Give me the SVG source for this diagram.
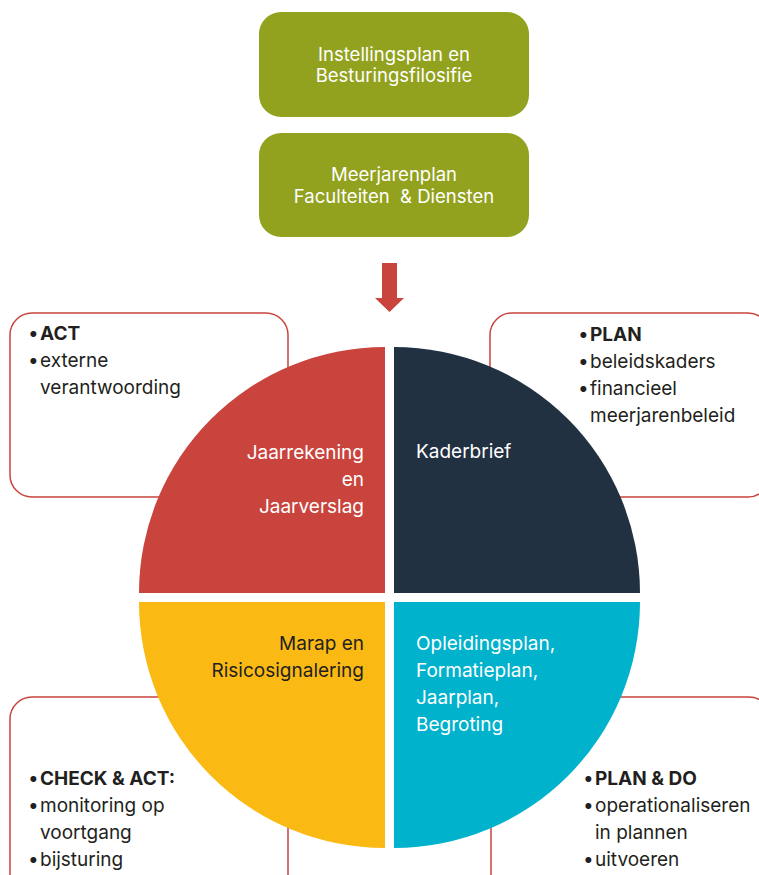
<svg xmlns="http://www.w3.org/2000/svg" width="759" height="875" viewBox="0 0 759 875">
<style>
.gbox{fill:#92a21e}
.rbox{fill:#fff;stroke:#c9443d;stroke-width:1.5}
.t{font-family:Inter,"Liberation Sans",Arial,sans-serif;font-size:19px}
.s{font-size:18.5px}
.w{fill:#fff}
.d{fill:#231f20}
.b{font-weight:bold}
.c{text-anchor:middle}
.r{text-anchor:end}
</style>
<rect width="759" height="875" fill="#fff"/>
<g id="box-instellingsplan">
<rect class="gbox" x="259" y="12" width="270" height="105" rx="22"/>
<text class="t s w c" x="394" y="61">Instellingsplan en</text>
<text class="t s w c" x="394" y="82">Besturingsfilosifie</text>
</g>
<g id="box-meerjarenplan">
<rect class="gbox" x="259" y="133" width="270" height="104" rx="22"/>
<text class="t s w c" x="394" y="181">Meerjarenplan</text>
<text class="t s w c" x="394" y="203" xml:space="preserve">Faculteiten  &amp; Diensten</text>
</g>
<g id="connectors">
<polygon points="382,263 397,263 397,298 404,298 389.5,312 375,298 382,298" fill="#c9443d"/>
</g>
<g id="box-act">
<rect class="rbox" x="10" y="313" width="278" height="184" rx="22"/>
<text class="t d" x="28" y="340">•<tspan class="b" x="40">ACT</tspan></text>
<text class="t d" x="28" y="367">•<tspan x="40">externe</tspan></text>
<text class="t d" x="40" y="394">verantwoording</text>
</g>
<g id="box-plan">
<rect class="rbox" x="490" y="313" width="280" height="184" rx="22"/>
<text class="t d" x="578" y="341">•<tspan class="b" x="590">PLAN</tspan></text>
<text class="t d" x="578" y="368">•<tspan x="590">beleidskaders</tspan></text>
<text class="t d" x="578" y="395">•<tspan x="590">financieel</tspan></text>
<text class="t d" x="590" y="422">meerjarenbeleid</text>
</g>
<g id="box-check">
<rect class="rbox" x="10" y="697" width="278" height="200" rx="22"/>
<text class="t d" x="28" y="785">•<tspan class="b" x="40">CHECK &amp; ACT:</tspan></text>
<text class="t d" x="28" y="812">•<tspan x="40">monitoring op</tspan></text>
<text class="t d" x="40" y="839">voortgang</text>
<text class="t d" x="28" y="866">•<tspan x="40">bijsturing</tspan></text>
</g>
<g id="box-plando">
<rect class="rbox" x="491" y="697" width="280" height="200" rx="22"/>
<text class="t d" x="583" y="785">•<tspan class="b" x="595">PLAN &amp; DO</tspan></text>
<text class="t d" x="583" y="812">•<tspan x="595">operationaliseren</tspan></text>
<text class="t d" x="595" y="839">in plannen</text>
<text class="t d" x="583" y="866">•<tspan x="595">uitvoeren</tspan></text>
</g>
<g id="q-jaarrekening">
<path d="M385,593 L139,593 A246,246 0 0 1 385,347 Z" fill="#c9443d"/>
<text class="t w r" x="364" y="459">Jaarrekening</text>
<text class="t w r" x="364" y="486">en</text>
<text class="t w r" x="364" y="513">Jaarverslag</text>
</g>
<g id="q-kaderbrief">
<path d="M394,593 L394,347 A246,246 0 0 1 640,593 Z" fill="#213142"/>
<text class="t w" x="416" y="458">Kaderbrief</text>
</g>
<g id="q-marap">
<path d="M385,602 L385,848 A246,246 0 0 1 139,602 Z" fill="#fbb914"/>
<text class="t d r" x="364" y="650">Marap en</text>
<text class="t d r" x="364" y="677">Risicosignalering</text>
</g>
<g id="q-opleidingsplan">
<path d="M394,602 L640,602 A246,246 0 0 1 394,848 Z" fill="#00b2cc"/>
<text class="t w" x="416" y="650">Opleidingsplan,</text>
<text class="t w" x="416" y="677">Formatieplan,</text>
<text class="t w" x="416" y="704">Jaarplan,</text>
<text class="t w" x="416" y="731">Begroting</text>
</g>
</svg>
